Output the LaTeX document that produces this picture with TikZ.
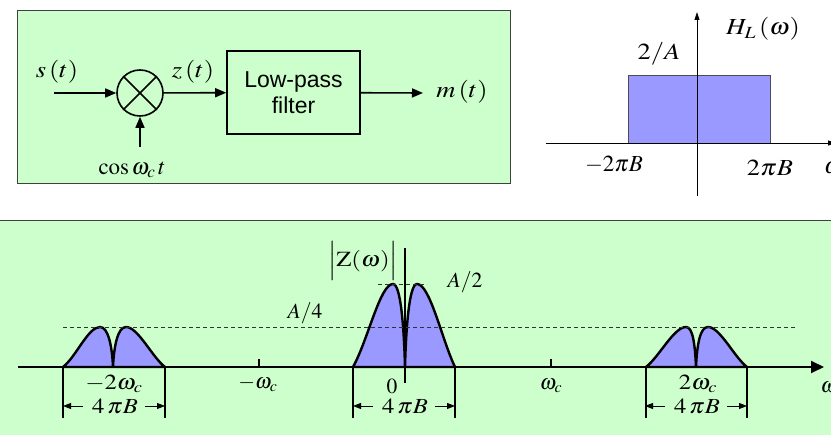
\documentclass[tikz,border=0pt]{standalone}
\usepackage{mathptmx}
\usepackage{fontspec}
\setmainfont{Liberation Serif}
\setsansfont{Liberation Sans}
\usetikzlibrary{arrows.meta}
\definecolor{pgreen}{HTML}{CCFFCC}
\definecolor{pblue}{HTML}{9999FF}
\newcommand{\hstr}[1]{\scalebox{1.15}[1]{#1}}
\tikzset{
  panel/.style={fill=pgreen,draw=black!75,line width=1pt},
  lbl/.style={inner sep=0pt,font=\fontsize{21.5}{23}\selectfont},
  toplbl/.style={inner sep=0pt,font=\fontsize{23}{25}\selectfont},
  arr/.style={line width=1.6pt,-{Triangle[length=11pt,width=9pt]}},
  lobe/.style={fill=pblue,draw=black,line width=2.4pt,line join=round},
  dashln/.style={dash pattern=on 4pt off 3pt,line width=0.8pt,draw=black!80},
  bar/.style={line width=2pt},
  dimarr/.style={line width=0.9pt,-{Triangle[length=8pt,width=6pt]}},
}
\begin{document}
\begin{tikzpicture}[x=1pt,y=-1pt]
\useasboundingbox (0,0) rectangle (831,435);
% panels
\path[panel] (17,11) rectangle (510,184);
\path[panel] (-2,221) rectangle (834,438);
% ---------- block diagram ----------
\coordinate (sin) at (54,93);
\node[circle,draw,line width=1.6pt,minimum size=46pt,inner sep=0pt] (mult) at (140,93) {};
\draw[line width=1.6pt] (mult.north west) -- (mult.south east) (mult.north east) -- (mult.south west);
\node[draw,line width=1.6pt,minimum width=133pt,minimum height=83pt,align=center,
      font=\sffamily\fontsize{23}{26}\selectfont] (lpf) at (293.5,92.5) {Low-pass\\filter};
\coordinate (mout) at (423,93);
\coordinate (cosin) at (140,147);
\node[toplbl] (slab) at (57,72) {\hstr{$s\,(t)$}};
\node[toplbl] (zlab) at (193,72) {\hstr{$z\,(t)$}};
\node[toplbl] (mlab) at (462,92) {\hstr{$m\,(t)$}};
\node[toplbl] (coslab) at (132,170) {$\cos\omega_c\,t$};
\draw[arr] (sin) -- (mult);
\draw[arr] (mult) -- (lpf);
\draw[arr] (lpf) -- (mout);
\draw[arr] (cosin) -- (mult);
% ---------- H_L plot ----------
\fill[pblue,draw=black!70,line width=0.8pt] (628,75) rectangle (770,143);
\coordinate (hxl) at (546,143);
\coordinate (hxr) at (836,143);
\coordinate (hyb) at (697,196);
\coordinate (hyt) at (697,12);
\draw[line width=0.9pt,-{Triangle[length=8pt,width=5pt]}] (hxl) -- (hxr);
\draw[line width=0.9pt,-{Triangle[length=8pt,width=5pt]}] (hyb) -- (hyt);
\node[toplbl] (twoA) at (659,54) {\hstr{$2/A$}};
\node[toplbl] (hl) at (763,29) {\hstr{$H_L\,(\omega)$}};
\node[toplbl] (mtwopiB) at (614,165) {$-2\pi B$};
\node[toplbl] (twopiB) at (770,168) {\hstr{$2\pi B$}};
\node[toplbl] (homega) at (833,168) {$\omega$};
% ---------- spectrum ----------
\path[lobe] (63,367) .. controls (76,357) and (88,327) .. (100,327)
   .. controls (108,327) and (112,345) .. (113,367)
   .. controls (114,345) and (118,327) .. (126,327)
   .. controls (138,327) and (152,357) .. (165,367) -- cycle;
\path[lobe] (353,367) .. controls (368,340) and (380,284) .. (393,284)
   .. controls (401,284) and (404,330) .. (405,367)
   .. controls (406,330) and (409,284) .. (417,284)
   .. controls (430,284) and (442,340) .. (455,367) -- cycle;
\path[lobe] (646,367) .. controls (659,357) and (674,327) .. (686,327)
   .. controls (693,327) and (695,345) .. (696,367)
   .. controls (697,345) and (700,327) .. (708,327)
   .. controls (720,327) and (734,357) .. (747,367) -- cycle;
\draw[dashln] (63,327) -- (797,327);
\draw[dashln] (378,284) -- (427,284);
\coordinate (zxl) at (18,367);
\coordinate (zxr) at (824,367);
\coordinate (zyb) at (405,383);
\coordinate (zyt) at (405,248);
\draw[line width=2pt,-{Triangle[length=13pt,width=12pt]}] (zxl) -- (zxr);
\draw[line width=2.2pt] (zyb) -- (zyt);
\draw[line width=2.6pt] (259,359) -- (259,367) (551,359) -- (551,367);
\foreach \x in {63,165,353,455,646,747} \draw[bar] (\x,366) -- (\x,418);
% dimension arrows
\foreach \c in {114,404,696}{
  \node[lbl] (dim\c) at (\c+1,406) {\hstr{$4\,\pi B$}};
  \draw[dimarr] ([xshift=-32pt]dim\c.center) -- ([xshift=-52pt]dim\c.center);
  \draw[dimarr] ([xshift=30pt]dim\c.center) -- ([xshift=50pt]dim\c.center);
}
\node[lbl] (l1) at (114,384) {\hstr{$-2\omega_c$}};
\node[lbl] (l2) at (258,384) {$-\omega_c$};
\node[lbl] (l3) at (392,386) {$0$};
\node[lbl] (l4) at (551,386) {$\omega_c$};
\node[lbl] (l5) at (698,384) {\hstr{$2\omega_c$}};
\node[lbl] (l6) at (829,387) {$\omega$};
\node[lbl] (zlabel) at (363,261) {\hstr{$\Bigl|\mathrm{Z}(\omega)\Bigr|$}};
\node[lbl] (a4) at (305,313) {$A/4$};
\node[lbl] (a2) at (465,282) {$A/2$};
\end{tikzpicture}
\end{document}
